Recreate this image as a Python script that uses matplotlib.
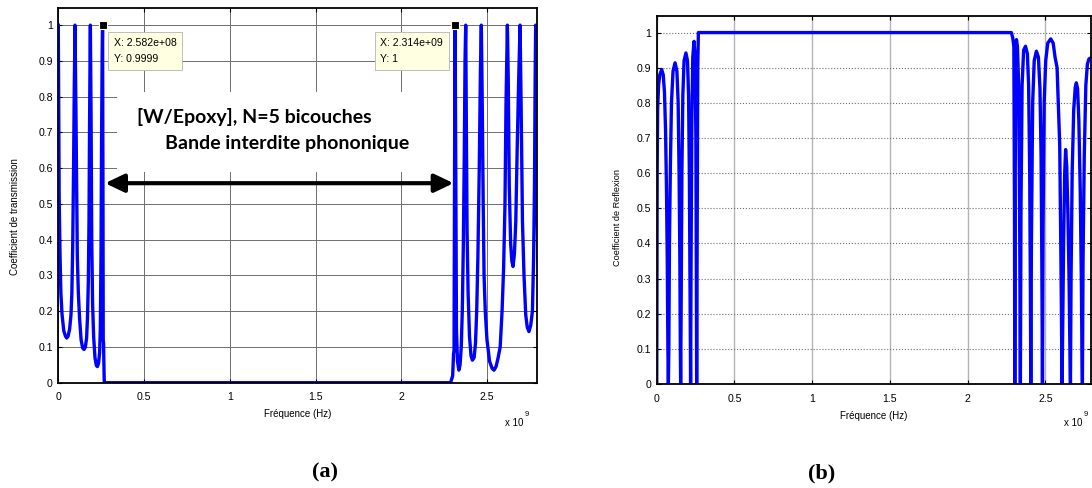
import numpy as np
import matplotlib.pyplot as plt
from matplotlib.patches import Rectangle, FancyArrowPatch

plt.rcParams['font.family'] = ['Liberation Sans', 'DejaVu Sans']

# frequency in units of 1e9 Hz
freq_t = [0.0, 0.002, 0.005, 0.010, 0.015, 0.022, 0.032, 0.042, 0.049, 0.057,
          0.066, 0.074, 0.079, 0.084, 0.089, 0.093, 0.0975,
          0.102, 0.107, 0.111, 0.117, 0.124, 0.133, 0.142, 0.150, 0.158,
          0.165, 0.170, 0.175, 0.179, 0.182, 0.185, 0.187,
          0.191, 0.195, 0.200, 0.206, 0.214, 0.222, 0.228, 0.235, 0.241,
          0.245, 0.249, 0.252, 0.2555, 0.2582, 0.2605, 0.262, 0.264, 0.266,
          0.268, 0.275,
          2.288, 2.300, 2.305, 2.308, 2.311, 2.314, 2.318, 2.322, 2.328,
          2.336, 2.343, 2.350, 2.356, 2.362, 2.368, 2.372, 2.376,
          2.380, 2.384, 2.390, 2.398, 2.407, 2.415, 2.425, 2.433, 2.440,
          2.447, 2.455, 2.462, 2.467,
          2.472, 2.478, 2.483, 2.490, 2.500, 2.515, 2.530, 2.541, 2.553,
          2.565, 2.577, 2.588, 2.597, 2.605, 2.611, 2.619,
          2.624, 2.630, 2.638, 2.645, 2.652, 2.660, 2.668, 2.676, 2.685, 2.693,
          2.699, 2.707, 2.716, 2.726, 2.735, 2.745, 2.755, 2.765, 2.772,
          2.777, 2.781, 2.784, 2.790, 2.796, 2.800]
trans = [1.0, 0.82, 0.52, 0.36, 0.25, 0.19, 0.145, 0.13, 0.125, 0.13,
         0.15, 0.19, 0.25, 0.38, 0.6, 0.82, 1.0,
         0.80, 0.55, 0.35, 0.25, 0.18, 0.12, 0.097, 0.093, 0.10,
         0.125, 0.18, 0.28, 0.45, 0.7, 0.9, 1.0,
         0.75, 0.40, 0.22, 0.13, 0.07, 0.048, 0.045, 0.055, 0.085,
         0.15, 0.35, 0.65, 0.9, 0.9999, 0.55, 0.12, 0.11, 0.05,
         0.003, 0.0,
         0.0, 0.02, 0.08, 0.09, 0.6, 1.0, 0.6, 0.15, 0.06,
         0.035, 0.05, 0.10, 0.2, 0.38, 0.65, 0.9, 1.0,
         0.7, 0.42, 0.25, 0.13, 0.075, 0.063, 0.07, 0.11, 0.2,
         0.35, 0.6, 0.88, 1.0,
         0.8, 0.5, 0.3, 0.2, 0.12, 0.06, 0.04, 0.035, 0.045,
         0.07, 0.1, 0.2, 0.32, 0.5, 0.78, 1.0,
         0.85, 0.55, 0.39, 0.34, 0.325, 0.36, 0.45, 0.65, 0.85, 1.0,
         0.78, 0.45, 0.30, 0.19, 0.155, 0.143, 0.16, 0.2, 0.35,
         0.55, 0.85, 1.0, 0.6, 0.36, 0.33]

freq_r = [0.0, 0.003, 0.006, 0.012, 0.020, 0.032, 0.042, 0.050, 0.057, 0.063,
          0.068, 0.072, 0.075, 0.078, 0.082, 0.088, 0.095, 0.105, 0.118,
          0.130, 0.138, 0.144, 0.149, 0.152, 0.154, 0.157, 0.162, 0.168,
          0.176, 0.188, 0.198, 0.205, 0.210, 0.214, 0.218, 0.221, 0.226,
          0.232, 0.240, 0.247, 0.252, 0.255, 0.257, 0.260, 0.264, 0.268,
          2.281, 2.290, 2.297, 2.301, 2.303, 2.306, 2.310, 2.314, 2.320,
          2.328, 2.334, 2.339, 2.343, 2.350, 2.360, 2.372, 2.384, 2.392,
          2.399, 2.403, 2.406, 2.410, 2.418, 2.428, 2.442, 2.455, 2.465,
          2.472, 2.477, 2.481, 2.485, 2.492, 2.502, 2.515, 2.534, 2.550,
          2.562, 2.575, 2.592, 2.600, 2.607, 2.611, 2.617, 2.624, 2.630,
          2.637, 2.645, 2.652, 2.657, 2.661, 2.665, 2.672, 2.682, 2.692,
          2.699, 2.707, 2.715, 2.724, 2.731, 2.735, 2.738, 2.742, 2.750,
          2.760, 2.770, 2.780, 2.800]
refl = [0.0, 0.6, 0.78, 0.85, 0.88, 0.895, 0.88, 0.83, 0.72, 0.55,
        0.35, 0.1, 0.0, 0.1, 0.4, 0.62, 0.8, 0.89, 0.914,
        0.89, 0.8, 0.6, 0.35, 0.1, 0.0, 0.2, 0.6, 0.82,
        0.92, 0.942, 0.92, 0.82, 0.6, 0.3, 0.0, 0.35, 0.75,
        0.93, 0.975, 0.93, 0.7, 0.3, 0.0, 0.4, 0.9, 1.0,
        1.0, 0.985, 0.96, 0.5, 0.0, 0.6, 0.95, 0.98, 0.96,
        0.85, 0.5, 0.0, 0.5, 0.85, 0.95, 0.961, 0.94, 0.85,
        0.6, 0.3, 0.0, 0.4, 0.8, 0.92, 0.947, 0.93, 0.84,
        0.65, 0.35, 0.0, 0.45, 0.8, 0.92, 0.97, 0.982, 0.97,
        0.93, 0.90, 0.68, 0.35, 0.0, 0.15, 0.4, 0.6, 0.667,
        0.62, 0.48, 0.3, 0.12, 0.0, 0.3, 0.6, 0.78, 0.845,
        0.857, 0.84, 0.75, 0.55, 0.3, 0.1, 0.0, 0.35, 0.65,
        0.85, 0.91, 0.925, 0.93]

# data tips on the transmission curve
tip_freq = [0.2582, 2.314]
tip_val = [0.9999, 1.0]

x_ticks = [0, 0.5, 1, 1.5, 2, 2.5]
x_tick_labels = ['0', '0.5', '1', '1.5', '2', '2.5']
y_ticks = [0, 0.1, 0.2, 0.3, 0.4, 0.5, 0.6, 0.7, 0.8, 0.9, 1]
y_tick_labels = ['0', '0.1', '0.2', '0.3', '0.4', '0.5', '0.6', '0.7', '0.8', '0.9', '1']

W, H = 1092, 488
fig = plt.figure(figsize=(W / 100, H / 100), dpi=100)


def px_axes(x0, x1, y_top, y_bot):
    return fig.add_axes([x0 / W, 1 - y_bot / H, (x1 - x0) / W, (y_bot - y_top) / H])


def style_axes(ax):
    ax.set_xlim(0, 2.79)
    ax.set_ylim(0, 1.048)
    ax.set_xticks(x_ticks, x_tick_labels)
    ax.set_yticks(y_ticks, y_tick_labels)
    ax.tick_params(direction='in', length=3, width=0.8, top=True, right=True,
                   labelsize=7.6, colors='black')
    ax.tick_params(axis='x', pad=7)
    ax.tick_params(axis='y', pad=4)
    for sp in ax.spines.values():
        sp.set_linewidth(1.3)
    ax.set_axisbelow(True)


# (a) transmission
ax1 = px_axes(58.3, 536.7, 8, 382.7)
style_axes(ax1)
ax1.grid(True, color='#6e6e6e', lw=0.7)
ax1.add_patch(Rectangle((0.343, 0.590), 1.962, 0.2235, fc='white', ec='none', zorder=1))
ax1.plot(freq_t, trans, color='#0000ff', lw=2.4, zorder=2)

for f, v, dx, ha in zip(tip_freq, tip_val, [11, -12], ['left', 'right']):
    ax1.plot(f, v, 's', ms=6, mfc='black', mec='#ffffe1', mew=0.8, zorder=5, clip_on=False)
    ax1.annotate(f'X: {f * 1e9:.3e}\nY: {v:.4g}',
                 xy=(f, v), xytext=(dx, -26), textcoords='offset pixels',
                 ha=ha, va='center', multialignment='left',
                 fontsize=7.6, linespacing=1.75, zorder=6,
                 bbox=dict(boxstyle='square,pad=0.55', fc='#ffffe1', ec='#bdbdbd', lw=0.7))

ax1.text(1.143, 0.743, '[W/Epoxy], N=5 bicouches', family=['Lato', 'DejaVu Sans'],
         fontweight='bold', fontsize=14, ha='center', va='center', zorder=4)
ax1.text(1.334, 0.670, 'Bande interdite phononique', family=['Lato', 'DejaVu Sans'],
         fontweight='bold', fontsize=14, ha='center', va='center', zorder=4)
ax1.add_patch(FancyArrowPatch((0.273, 0.558), (2.305, 0.558),
                              arrowstyle='<|-|>,head_length=1.15,head_width=0.55',
                              mutation_scale=10, lw=3, color='black',
                              shrinkA=0, shrinkB=0, zorder=4))
ax1.set_xlabel('Fréquence (Hz)', fontsize=7, labelpad=5)
fig.text(15 / W, 1 - 217 / H, 'Coefficient de transmission', rotation=90,
         fontsize=7, ha='center', va='center')
fig.text(523 / W, 1 - 423 / H, 'x 10', fontsize=7, ha='right', va='center')
fig.text(525 / W, 1 - 414 / H, '9', fontsize=5.5, ha='left', va='center')
fig.text(325 / W, 1 - 472 / H, '(a)', family=['Liberation Serif', 'DejaVu Serif'],
         fontweight='bold', fontsize=16, ha='center', va='center')

# (b) reflection
ax2 = px_axes(656.7, 1090.5, 15.7, 384)
style_axes(ax2)
ax2.grid(True, axis='x', color='#b4b4b4', lw=1.0)
ax2.grid(True, axis='y', color='#707070', lw=0.8, ls=':')
ax2.plot(freq_r, refl, color='#0000ff', lw=2.4, zorder=2)
ax2.set_xlabel('Fréquence (Hz)', fontsize=7, labelpad=5)
fig.text(618 / W, 1 - 218 / H, 'Coefficient de Reflexion', rotation=90,
         fontsize=6.6, ha='center', va='center')
fig.text(1082 / W, 1 - 423 / H, 'x 10', fontsize=7, ha='right', va='center')
fig.text(1084 / W, 1 - 414 / H, '9', fontsize=5.5, ha='left', va='center')
fig.text(822 / W, 1 - 473 / H, '(b)', family=['Liberation Serif', 'DejaVu Serif'],
         fontweight='bold', fontsize=16, ha='center', va='center')

fig.savefig('out.png', dpi=100)
